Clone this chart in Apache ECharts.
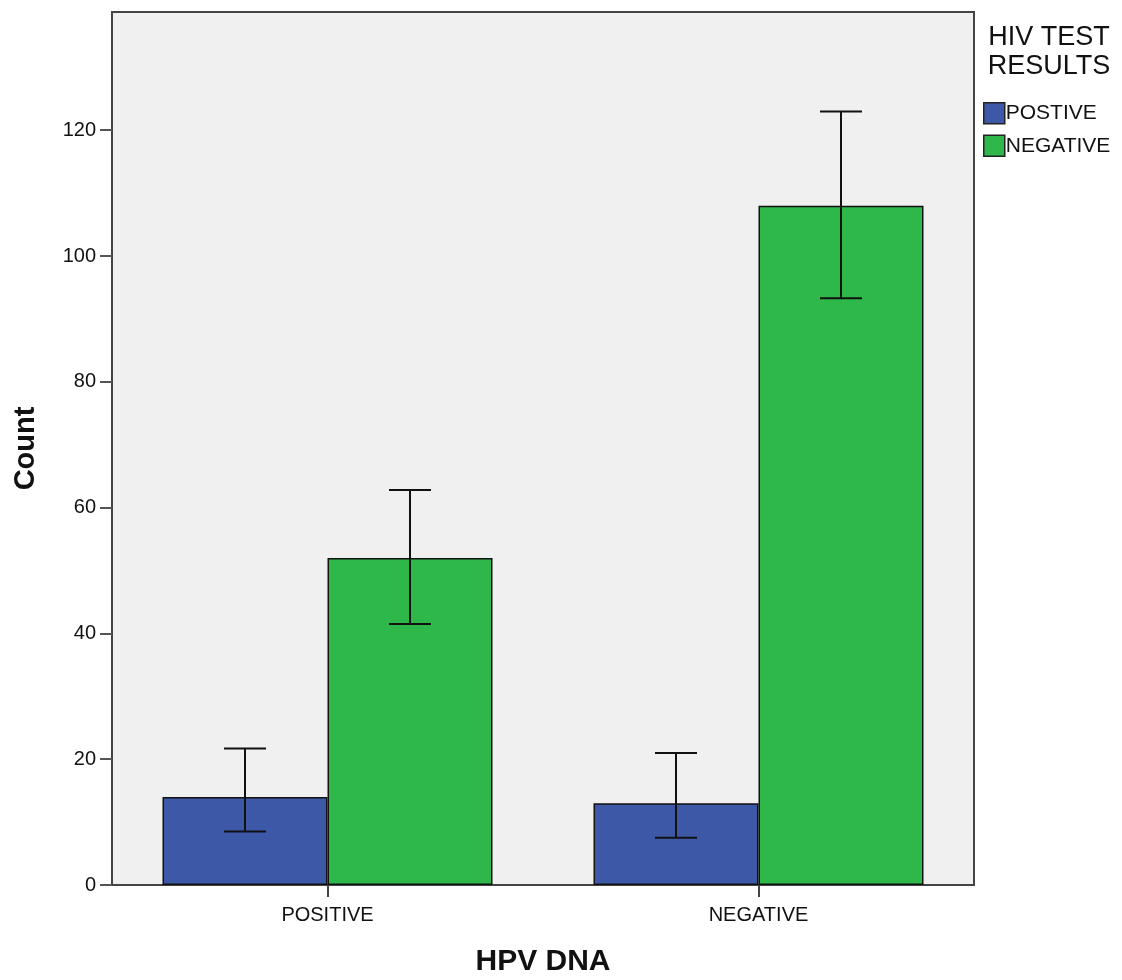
<!DOCTYPE html>
<html><head><meta charset="utf-8">
<script src="https://cdn.jsdelivr.net/npm/echarts@6/dist/echarts.min.js"></script>
<style>html,body{margin:0;padding:0;background:#fff}#c{width:1122px;height:980px}</style>
</head><body><div id="c"></div>
<script>
const categories = ['POSITIVE', 'NEGATIVE'];
const seriesNames = ['POSTIVE', 'NEGATIVE'];
const countPos = [14, 13];
const countNeg = [52, 108];
const errLowPos = [8.5, 7.5];
const errHighPos = [21.7, 21];
const errLowNeg = [41.5, 93.3];
const errHighNeg = [62.8, 123];
const yTicks = [0, 20, 40, 60, 80, 100, 120];

const BAR_W = 165;
const font = 'Liberation Sans, Arial, sans-serif';
const colors = ['#3e58a8', '#2eb84a'];

function errSeries(name, lows, highs, side) {
  return {
    type: 'custom', name: name + ' err', silent: true, z: 10,
    data: categories.map((c, i) => [i, lows[i], highs[i]]),
    renderItem: function (params, api) {
      const lo = api.coord([api.value(0), api.value(1)]);
      const hi = api.coord([api.value(0), api.value(2)]);
      const x = lo[0] + side * BAR_W / 2;
      const cap = 21;
      const st = { stroke: '#111', lineWidth: 2 };
      return { type: 'group', children: [
        { type: 'line', shape: { x1: x, y1: lo[1], x2: x, y2: hi[1] }, style: st },
        { type: 'line', shape: { x1: x - cap, y1: lo[1], x2: x + cap, y2: lo[1] }, style: st },
        { type: 'line', shape: { x1: x - cap, y1: hi[1], x2: x + cap, y2: hi[1] }, style: st }
      ]};
    }
  };
}

const chart = echarts.init(document.getElementById('c'));
chart.setOption({
  animation: false,
  backgroundColor: '#fff',
  graphic: [{
    type: 'text', x: 1049, y: 23, z: 20,
    style: { text: 'HIV TEST\nRESULTS', textAlign: 'center', fontFamily: font, fontSize: 27,
      lineHeight: 29, fill: '#111' }
  }],
  legend: {
    data: seriesNames, orient: 'vertical', left: 978, top: 97, itemGap: 10,
    icon: 'rect', itemWidth: 21, itemHeight: 21,
    textStyle: { fontFamily: font, fontSize: 21, color: '#111', padding: [0, 0, 0, -4] },
    itemStyle: { borderColor: '#222', borderWidth: 1.5 }
  },
  grid: { left: 112, right: 148, top: 12, bottom: 95, show: true, containLabel: false,
    outerBoundsMode: 'none',
    backgroundColor: '#f0f0f0', borderColor: '#444', borderWidth: 2 },
  xAxis: {
    type: 'category', data: categories,
    name: 'HPV DNA', nameLocation: 'middle', nameGap: 62,
    nameTextStyle: { fontFamily: font, fontSize: 30, fontWeight: 'bold', color: '#111' },
    axisLine: { lineStyle: { color: '#444', width: 2 } },
    axisTick: { show: true, alignWithLabel: true, length: 12, lineStyle: { color: '#444', width: 2 } },
    axisLabel: { fontFamily: font, fontSize: 20, color: '#111', margin: 20 }
  },
  yAxis: {
    type: 'value', min: 0, max: 138.8, interval: 20,
    name: 'Count', nameLocation: 'middle', nameGap: 72,
    nameTextStyle: { fontFamily: font, fontSize: 29, fontWeight: 'bold', color: '#111' },
    splitLine: { show: false },
    axisLine: { show: true, lineStyle: { color: '#444', width: 2 } },
    axisTick: { show: true, length: 12, customValues: yTicks, lineStyle: { color: '#555', width: 2 } },
    axisLabel: { fontFamily: font, fontSize: 20, color: '#111', margin: 16, customValues: yTicks }
  },
  series: [
    { type: 'bar', name: seriesNames[0], data: countPos, barWidth: BAR_W, barGap: '0%',
      itemStyle: { color: colors[0], borderColor: '#111', borderWidth: 1.5 } },
    { type: 'bar', name: seriesNames[1], data: countNeg, barWidth: BAR_W, barGap: '0%',
      itemStyle: { color: colors[1], borderColor: '#111', borderWidth: 1.5 } },
    errSeries(seriesNames[0], errLowPos, errHighPos, -1),
    errSeries(seriesNames[1], errLowNeg, errHighNeg, 1)
  ]
});
</script></body></html>
